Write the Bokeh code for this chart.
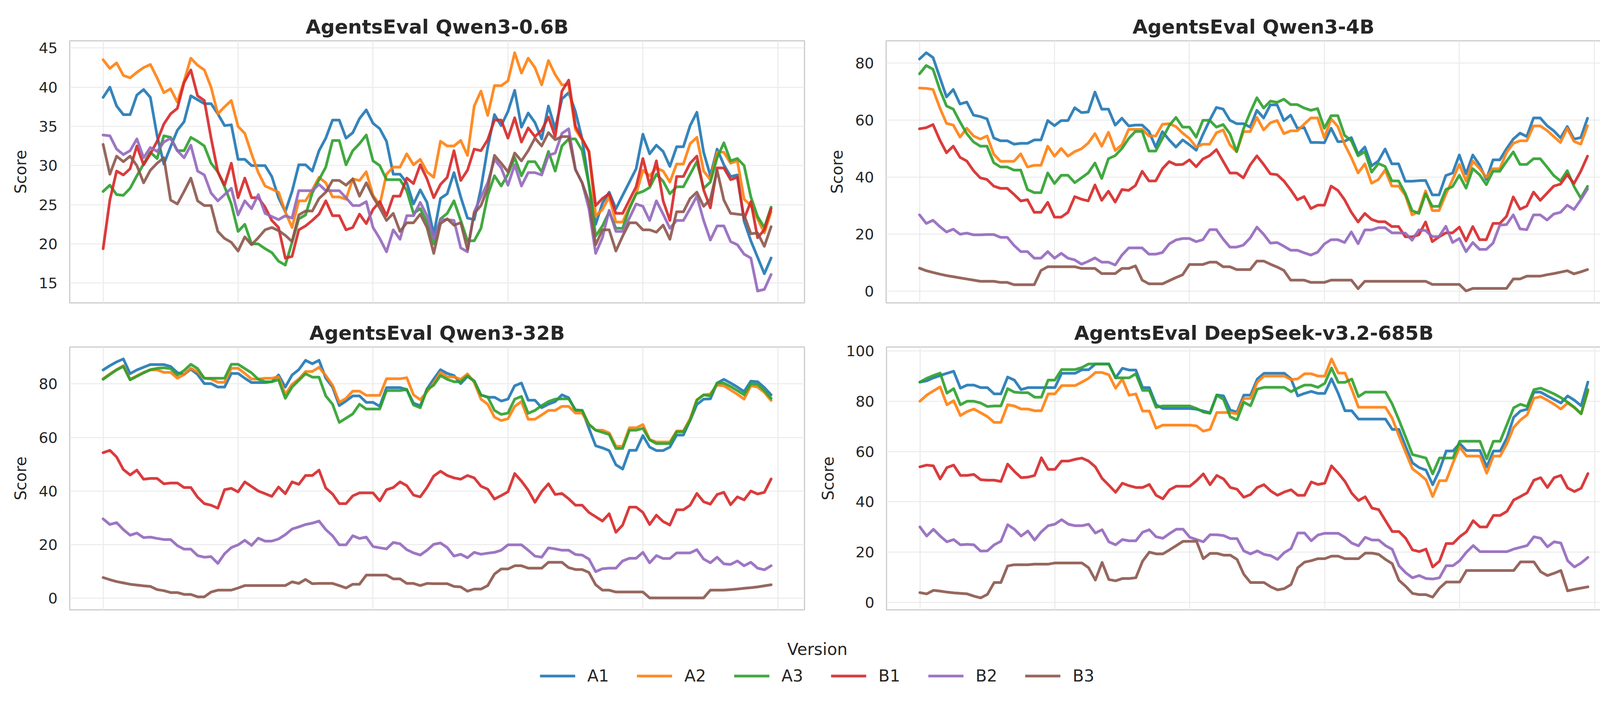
from bokeh.plotting import figure
from bokeh.models import FixedTicker, Range1d, Legend, LegendItem
from bokeh.layouts import column, row
from bokeh.embed import file_html
from bokeh.resources import INLINE

# ---------------- data ----------------
versions = ["A1", "A2", "A3", "B1", "B2", "B3"]
colors = ["#1f77b4", "#ff7f0e", "#2ca02c", "#d62728", "#9467bd", "#8c564b"]
steps = list(range(100))
x_grid_ticks = [0, 20, 40, 60, 80, 100]

titles = ["AgentsEval Qwen3-0.6B", "AgentsEval Qwen3-4B",
          "AgentsEval Qwen3-32B", "AgentsEval DeepSeek-v3.2-685B"]
yticks_q06 = [15, 20, 25, 30, 35, 40, 45]
yticks_q4 = [0, 20, 40, 60, 80]
yticks_q32 = [0, 20, 40, 60, 80]
yticks_ds = [0, 20, 40, 60, 80, 100]

q06_A1 = [38.7,40.0,37.6,36.5,36.5,39.0,39.7,38.7,33.8,30.2, 32.4,34.5,35.6,38.9,38.4,37.9,37.9,36.6,35.1,35.2,
          30.8,30.8,30.0,30.0,30.0,28.6,25.9,24.1,26.7,30.1, 30.1,29.3,31.9,33.5,35.8,35.8,33.5,34.2,36.0,37.1,
          35.4,34.7,33.1,28.9,28.9,27.8,25.1,26.9,25.3,21.2, 25.8,26.4,29.1,26.0,23.3,23.1,27.1,32.3,36.5,35.1,
          36.9,39.6,34.9,36.7,35.5,33.4,37.6,34.7,38.5,39.3, 36.9,33.4,27.6,22.5,25.2,26.6,24.5,26.2,27.9,29.6,
          34.0,31.5,32.6,31.8,29.9,32.4,32.4,35.1,36.8,31.7, 28.7,32.1,30.1,28.6,28.8,22.9,20.4,18.3,16.2,18.2]
q06_A2 = [43.5,42.4,43.1,41.5,41.2,41.9,42.5,42.9,41.2,39.3, 39.8,38.1,40.8,43.7,42.8,42.2,40.0,36.6,37.5,38.3,
          35.0,34.1,31.5,29.1,27.4,27.0,26.6,24.1,22.1,25.5, 25.5,26.9,28.5,27.8,26.0,26.0,25.7,28.3,28.1,29.2,
          26.2,25.0,28.9,29.8,29.8,31.5,30.1,30.8,29.2,28.5, 33.1,32.5,32.5,33.2,31.3,37.6,39.5,36.4,40.2,40.2,
          40.8,44.4,41.8,43.7,42.5,40.3,43.4,41.6,40.3,40.3, 34.6,33.3,31.8,23.6,24.4,26.0,22.8,22.8,24.7,26.4,
          29.4,28.7,29.7,29.3,27.9,30.2,30.2,32.8,33.6,29.3, 28.2,31.7,31.7,30.3,30.6,25.7,24.9,23.2,21.4,24.1]
q06_A3 = [26.7,27.5,26.3,26.2,27.1,28.7,30.2,31.7,30.9,33.8, 33.6,31.9,31.9,33.6,33.1,32.5,30.3,29.2,27.3,25.1,
          21.6,22.5,20.0,20.0,19.4,18.9,17.8,17.3,20.2,23.2, 23.7,26.5,28.2,29.8,33.2,33.2,30.1,31.9,32.8,33.9,
          30.6,30.0,28.2,28.2,28.2,26.8,23.9,24.5,22.8,20.0, 23.2,23.9,25.5,23.0,20.4,20.4,22.0,26.2,28.7,27.4,
          28.9,31.0,28.7,30.5,30.5,29.2,31.8,29.3,32.5,33.4, 33.4,31.9,27.6,21.0,22.3,24.1,22.0,22.0,24.5,26.4,
          26.7,27.2,28.9,28.0,26.4,27.3,27.3,28.9,30.5,27.1, 27.9,31.0,32.9,30.6,30.9,30.0,26.0,23.5,22.1,24.7]
q06_B1 = [19.4,25.6,29.3,28.8,29.6,32.5,30.1,31.5,33.1,35.3, 36.6,37.3,40.6,42.2,38.9,38.3,33.5,29.2,27.5,30.3,
          25.9,28.4,25.9,25.9,24.7,23.0,22.1,18.2,18.4,21.8, 22.3,23.0,23.8,25.5,23.6,23.6,21.8,22.1,23.8,22.6,
          24.4,25.4,23.6,26.1,26.1,28.4,27.7,30.1,28.3,25.9, 27.6,28.5,31.9,28.1,29.4,32.1,31.9,33.3,35.8,35.8,
          33.5,36.1,33.0,34.8,33.7,34.5,36.2,33.7,39.5,40.9, 35.0,33.4,31.8,24.9,25.8,26.4,23.9,23.9,25.6,27.3,
          30.9,27.5,30.6,25.5,23.0,28.6,28.6,30.3,31.2,26.9, 24.6,29.7,29.7,28.2,28.5,23.2,25.4,20.8,21.8,24.5]
q06_B2 = [33.9,33.8,32.1,31.4,31.9,33.4,31.0,32.3,31.8,33.0, 33.5,31.9,31.0,32.6,29.3,28.8,26.5,25.5,26.3,27.1,
          23.7,25.5,24.5,26.3,23.9,23.5,23.1,23.6,23.3,26.8, 26.8,26.8,27.6,26.8,26.8,26.8,25.9,24.9,24.9,25.4,
          22.1,20.7,19.0,21.8,20.6,23.6,23.6,25.3,23.6,20.7, 23.1,23.1,23.0,19.5,19.0,24.1,26.0,27.8,30.8,29.7,
          27.5,30.1,27.4,29.1,29.1,28.8,31.3,31.6,34.1,34.7, 29.5,27.8,24.5,18.8,20.8,24.3,21.6,21.6,23.3,25.1,
          24.8,23.0,25.5,23.8,22.0,23.0,23.0,24.5,26.1,23.0, 20.5,22.3,22.3,20.3,19.9,18.7,18.2,14.0,14.2,16.1]
q06_B3 = [32.7,28.9,31.2,30.5,31.2,30.0,27.8,29.4,30.3,31.0, 25.6,25.1,26.7,28.4,25.5,24.9,24.9,21.6,20.7,20.2,
          19.1,20.9,19.9,20.8,21.8,22.1,21.7,21.1,20.3,23.7, 24.2,24.2,25.8,26.6,28.1,28.1,27.5,28.3,26.1,27.8,
          26.0,24.6,23.0,23.9,21.6,22.7,22.7,23.8,22.1,18.8, 22.6,23.2,22.4,22.7,19.3,23.9,24.9,27.1,31.3,30.3,
          29.2,31.6,30.6,31.9,33.5,32.5,34.2,33.3,33.7,33.7, 29.5,27.8,25.4,19.9,21.8,21.8,19.1,21.0,22.7,22.7,
          21.8,21.8,21.5,22.4,20.6,24.1,24.1,25.8,26.6,24.8, 25.7,29.4,25.6,23.9,23.8,23.7,21.3,21.4,19.7,22.2]

q4_A1 = [81.4,83.6,81.9,75.0,68.1,70.7,65.6,66.3,61.7,61.2, 60.4,53.7,52.7,52.7,51.5,51.8,51.8,53.0,53.0,59.8,
         58.0,59.8,59.8,64.3,62.6,62.8,69.8,63.8,63.8,58.2, 60.6,57.9,58.2,58.2,56.0,50.5,55.9,53.0,50.5,53.0,
         51.3,49.4,54.9,59.9,64.4,63.8,59.9,58.7,58.7,57.5, 63.4,60.7,65.3,65.3,59.8,61.7,57.1,57.4,52.1,52.1,
         52.0,57.1,52.4,52.5,53.8,48.0,50.5,43.9,45.6,49.8, 44.6,44.6,38.5,38.5,38.7,38.8,33.7,33.7,40.5,41.4,
         47.7,41.1,47.7,44.2,39.1,46.0,46.0,49.9,53.3,55.4, 54.2,60.7,60.7,58.0,56.2,53.7,57.7,53.3,53.8,60.6]
q4_A2 = [71.2,71.1,70.7,64.3,58.8,58.2,54.0,57.1,54.4,53.3, 54.4,48.0,45.5,45.5,45.5,48.1,43.5,44.1,44.1,50.8,
         47.3,50.0,47.3,48.9,49.9,51.9,55.2,50.8,55.7,49.3, 51.3,56.7,56.7,56.7,54.4,54.4,58.5,58.7,57.7,55.4,
         53.5,50.5,51.5,51.5,55.5,56.5,51.3,48.9,55.9,55.9, 60.9,56.5,59.0,59.8,55.2,56.2,56.2,58.5,60.7,60.7,
         53.7,60.4,57.7,51.5,46.8,41.4,44.6,37.8,39.1,42.4, 36.8,36.8,33.6,26.7,27.9,35.1,28.2,28.2,33.9,39.1,
         44.4,38.6,45.6,43.0,39.9,42.9,42.9,48.6,51.8,52.7, 52.7,57.9,57.9,56.3,54.2,52.1,57.1,52.5,51.5,58.0]
q4_A3 = [76.2,79.1,77.8,70.7,64.9,63.8,59.3,55.2,52.3,50.8, 50.8,45.0,43.5,43.5,42.4,42.4,35.6,34.5,34.5,41.4,
         37.7,40.6,40.6,38.0,39.7,41.4,44.9,39.5,46.4,47.5, 50.0,53.5,56.0,56.0,49.1,49.1,53.5,58.0,60.9,57.5,
         57.5,54.0,59.9,59.9,57.5,58.4,55.2,48.9,56.8,62.6, 67.8,64.2,66.6,66.2,67.3,65.4,65.4,64.2,63.4,64.0,
         57.1,61.5,61.5,54.6,52.7,47.4,48.9,41.7,44.7,43.7, 38.6,38.6,34.2,28.2,27.2,34.1,29.7,29.7,35.6,36.6,
         40.6,36.1,42.9,40.8,37.3,42.0,42.0,45.5,48.8,44.4, 44.4,46.4,46.4,43.5,40.5,38.6,42.2,36.7,32.6,36.7]
q4_B1 = [56.9,57.3,58.4,53.0,48.5,50.8,46.9,45.6,42.2,39.7, 39.1,36.8,36.0,36.0,33.9,31.6,32.0,27.6,27.6,31.1,
         25.9,25.9,27.6,33.1,32.2,31.6,37.2,31.8,35.0,31.2, 35.6,35.3,37.0,42.0,38.6,38.6,42.9,45.4,44.3,44.4,
         46.0,43.6,46.3,47.5,49.6,45.5,41.4,41.4,39.7,44.2, 47.4,44.4,41.1,40.8,38.6,35.5,32.0,33.1,28.9,30.1,
         30.1,36.8,35.3,32.0,27.6,24.2,27.2,25.1,24.3,24.3, 22.6,22.6,19.0,19.0,19.7,24.2,17.3,19.0,20.4,20.4,
         22.4,17.6,22.6,18.0,18.0,23.7,23.7,26.2,33.0,28.7, 29.8,34.7,31.8,34.3,36.8,37.5,40.8,37.7,42.0,47.3]
q4_B2 = [26.7,23.7,24.8,22.6,20.7,21.7,19.9,20.3,19.7,19.7, 19.8,19.8,18.8,18.8,16.0,13.8,13.8,11.5,11.5,13.8,
         11.5,13.2,11.5,10.9,9.4,10.4,11.6,10.1,10.1,9.1, 12.6,15.1,15.1,15.1,12.9,12.9,13.5,16.5,17.9,18.4,
         18.4,17.3,18.0,21.5,21.5,18.2,15.4,15.4,16.1,18.6, 22.4,19.9,16.8,17.0,15.7,14.3,14.3,13.4,12.6,13.6,
         16.5,18.0,18.0,17.0,20.7,16.6,21.4,21.4,22.2,22.2, 20.4,20.4,20.3,17.8,21.4,21.2,19.1,19.1,22.7,17.0,
         18.4,13.8,17.0,14.6,14.6,16.8,23.1,23.3,26.7,21.8, 21.5,26.7,26.7,24.9,27.0,27.6,30.1,28.6,32.0,35.8]
q4_B3 = [8.0,7.1,6.5,5.9,5.4,5.0,4.6,4.2,3.8,3.4, 3.4,3.4,3.0,3.0,2.2,2.2,2.2,2.2,7.2,8.5,
         8.5,8.5,8.5,8.5,7.9,7.9,7.9,6.1,6.1,6.1, 7.9,7.9,8.8,3.8,2.5,2.5,2.5,3.6,4.7,5.7,
         9.3,9.3,9.3,10.1,10.1,8.5,8.5,7.5,7.5,7.5, 10.5,10.5,9.4,8.4,7.2,3.8,3.8,3.8,3.0,3.0,
         3.0,3.8,3.8,3.8,3.8,0.8,3.4,3.4,3.4,3.4, 3.4,3.4,3.4,3.4,3.4,3.4,2.3,2.3,2.3,2.3,
         2.3,0.0,0.9,0.9,0.9,0.9,0.9,0.9,4.2,4.2, 5.2,5.2,5.2,5.7,6.1,6.6,7.1,6.0,6.7,7.5]

q32_A1 = [85.2,86.8,88.2,89.3,83.8,85.2,86.2,87.2,87.2,87.2, 86.5,84.2,83.5,85.5,83.5,80.1,80.1,78.8,78.8,83.9,
          83.9,82.1,80.5,80.5,80.5,80.8,83.3,78.8,83.3,85.3, 88.8,87.5,88.8,82.1,78.8,71.9,73.6,75.5,75.5,73.1,
          73.1,71.6,78.6,78.6,78.6,77.9,72.8,71.8,78.1,81.8, 85.3,83.9,83.1,80.1,82.8,81.0,75.9,75.0,75.0,73.6,
          74.3,79.3,80.3,73.9,73.9,71.1,72.4,73.4,75.9,74.8, 70.1,70.1,63.4,56.9,56.1,55.1,49.8,48.2,55.2,55.2,
          60.7,56.4,55.1,55.1,56.4,60.9,60.9,66.4,72.3,74.3, 74.4,80.3,81.7,80.3,78.8,77.1,81.0,80.8,78.6,75.9]
q32_A2 = [81.9,83.7,85.3,86.8,81.7,83.0,84.3,85.2,85.2,84.3, 84.3,82.1,83.5,85.8,84.5,82.1,81.8,80.6,80.6,85.8,
          85.8,83.9,81.8,81.8,82.1,82.1,82.6,76.1,79.8,81.8, 84.6,84.6,86.2,83.1,79.5,73.1,74.6,77.3,77.3,75.7,
          75.7,75.7,81.9,81.9,81.9,82.3,75.9,74.1,77.0,80.3, 84.3,82.6,82.6,81.7,83.7,80.6,74.3,72.4,67.6,66.3,
          67.0,71.6,73.4,66.8,66.8,68.4,70.1,70.1,71.6,71.6, 69.1,69.1,64.8,62.7,62.7,61.7,56.7,56.7,63.6,63.6,
          64.8,59.2,58.3,58.3,58.3,62.4,62.4,67.0,74.1,75.8, 76.3,79.5,79.3,77.7,76.1,74.3,79.3,78.8,76.8,73.8]
q32_A3 = [81.7,83.5,85.2,86.5,81.5,82.8,84.1,85.3,85.8,86.0, 85.7,83.3,85.0,87.3,85.7,82.1,82.1,82.1,82.1,87.3,
          87.3,85.7,84.1,81.7,80.8,80.8,81.5,74.6,78.8,81.3, 83.8,82.5,82.5,75.5,72.4,65.6,67.2,68.8,72.4,70.6,
          70.6,70.6,77.5,77.5,77.5,77.9,72.1,71.1,77.9,79.5, 83.1,81.7,80.8,80.8,83.0,81.1,75.8,75.1,70.1,68.6,
          69.1,74.3,75.3,69.0,70.1,71.9,73.4,74.3,74.4,74.4, 70.3,70.1,64.9,62.7,61.9,61.1,55.9,55.9,62.7,62.7,
          63.4,59.1,57.7,57.7,57.7,62.1,62.1,66.4,73.9,75.9, 75.5,80.3,80.3,79.0,77.5,75.9,80.1,79.8,77.5,74.6]
q32_B1 = [54.3,55.2,52.7,48.0,46.0,47.8,44.4,44.7,44.7,42.7, 43.0,43.0,41.3,41.3,37.7,35.3,34.7,33.6,40.5,41.0,
          39.7,43.4,41.7,40.0,39.0,38.0,41.5,39.0,43.4,42.5, 45.8,45.8,47.8,41.1,38.9,35.3,35.3,38.2,39.3,39.3,
          39.3,36.3,40.5,41.3,43.4,42.0,38.5,37.8,41.3,45.6, 47.4,45.8,44.9,44.4,45.8,44.9,41.8,40.7,37.0,38.3,
          39.7,46.5,43.7,40.3,35.8,39.8,42.7,38.7,39.1,37.1, 34.7,34.7,32.0,30.4,28.8,31.5,24.6,27.3,34.0,34.0,
          32.0,27.5,31.0,28.6,27.3,33.0,33.0,34.7,39.1,36.0, 35.1,38.7,39.5,34.9,37.8,36.7,40.0,38.9,39.5,44.5]
q32_B2 = [29.6,27.5,28.2,25.6,23.5,24.3,22.6,22.8,22.3,21.9, 21.9,19.6,18.3,18.3,15.9,15.3,15.5,13.0,16.6,18.9,
          19.9,21.6,19.7,22.4,21.3,21.3,22.1,23.7,25.8,26.6, 27.5,28.0,28.8,25.6,23.3,19.9,19.9,23.3,22.3,22.8,
          19.3,18.8,18.4,20.8,20.3,18.1,16.9,16.1,17.9,20.1, 20.6,18.9,15.7,16.4,15.1,17.1,16.4,16.8,17.1,17.9,
          19.9,19.9,19.9,17.9,15.7,15.3,18.8,18.4,17.9,17.9, 16.3,16.1,14.6,9.9,11.0,11.2,11.2,13.9,14.9,14.9,
          17.1,13.2,15.9,14.8,14.8,16.9,16.9,16.9,18.1,14.6, 13.2,15.3,12.8,12.6,13.9,12.1,13.4,11.2,10.6,12.1]
q32_B3 = [7.7,6.9,6.2,5.7,5.2,4.9,4.6,4.4,3.2,2.8, 2.1,2.1,1.4,1.4,0.5,0.5,2.3,3.0,3.0,3.0,
          3.8,4.7,4.7,4.7,4.7,4.7,4.7,4.7,6.1,5.5, 7.0,5.4,5.5,5.5,5.5,4.7,3.8,5.2,5.2,8.6,
          8.6,8.6,8.6,7.2,7.2,5.5,5.5,4.7,5.5,5.4, 5.4,5.4,4.4,4.2,2.6,3.4,3.4,4.7,9.0,10.9,
          10.9,12.1,12.1,11.2,11.2,11.2,13.4,13.4,13.4,11.4, 10.7,10.7,9.6,5.0,3.0,3.0,2.3,2.3,2.3,2.3,
          2.3,0.1,0.1,0.1,0.1,0.1,0.1,0.1,0.1,0.1, 3.0,3.0,3.0,3.2,3.4,3.7,3.9,4.2,4.6,5.0]

ds_A1 = [87.6,88.1,89.3,90.2,91.1,91.9,85.2,86.4,86.4,85.4, 85.4,82.9,82.9,89.6,88.4,84.6,85.4,85.4,85.4,85.4,
         85.4,91.1,91.1,91.1,92.5,92.5,94.8,94.8,94.8,89.3, 93.1,92.4,92.4,85.4,85.4,78.6,77.1,77.1,77.1,77.1,
         77.1,76.8,76.1,75.4,82.5,82.1,76.4,75.7,82.4,82.4, 88.8,91.1,91.1,91.1,91.1,88.9,82.1,83.1,83.9,83.1,
         83.1,88.9,83.1,76.2,76.2,72.9,72.9,72.9,72.9,72.9, 68.8,68.8,61.9,55.5,53.6,52.6,46.8,52.5,60.2,60.2,
         63.2,60.4,60.4,60.4,53.9,60.2,60.2,65.4,73.6,76.1, 76.8,83.6,83.6,82.1,80.7,79.3,82.1,80.4,78.2,87.6]
ds_A2 = [80.0,82.4,84.1,85.7,78.6,80.2,74.3,75.9,76.9,75.4, 73.9,71.6,71.6,78.6,78.1,76.9,76.9,76.2,76.2,82.9,
         82.9,86.2,86.2,86.2,87.6,89.1,91.4,91.4,90.5,85.2, 88.8,82.4,82.9,76.1,76.1,69.3,70.5,70.5,70.5,70.5,
         70.5,70.2,68.1,68.8,75.5,75.5,75.5,75.0,81.1,81.1, 87.6,90.0,90.0,90.0,90.0,88.6,88.9,90.9,90.9,90.0,
         90.0,96.8,91.2,91.2,84.8,77.6,77.6,77.6,77.6,77.6, 73.2,66.2,59.6,53.1,51.1,48.8,42.1,48.4,48.4,55.4,
         61.8,58.2,58.2,58.2,51.4,58.2,58.2,63.1,69.6,72.5, 74.6,81.2,81.8,80.4,78.8,76.9,79.3,77.4,75.0,84.0]
ds_A3 = [87.6,89.1,90.2,91.2,83.2,85.0,78.6,80.0,80.0,79.3, 77.9,78.1,78.1,85.0,83.6,83.4,83.4,81.6,81.6,88.4,
         88.4,92.6,92.6,92.6,93.4,94.8,94.8,94.8,94.8,89.3, 89.3,89.3,90.9,84.3,84.3,77.6,78.1,78.1,78.1,78.1,
         78.1,77.1,75.7,75.2,82.4,80.7,73.8,72.6,79.6,78.2, 84.8,85.5,85.5,85.5,85.5,83.8,85.2,86.4,86.4,85.5,
         87.1,93.2,87.5,87.5,88.8,81.8,83.6,83.6,83.6,83.6, 78.9,72.5,65.7,58.8,58.1,57.4,51.1,57.4,57.4,57.4,
         64.1,64.1,64.1,64.1,57.1,64.1,64.1,70.7,77.4,78.8, 77.9,84.6,85.2,84.1,82.9,81.4,79.6,77.6,75.0,84.6]
ds_B1 = [53.9,54.6,54.3,49.1,53.6,54.6,50.5,50.5,50.9,48.8, 48.6,48.6,48.1,55.0,52.1,49.6,49.8,50.5,57.5,52.9,
         52.9,56.2,56.2,56.9,57.4,56.2,53.9,49.3,46.6,43.8, 47.4,46.4,45.7,45.7,46.9,42.6,41.2,44.8,46.2,46.2,
         46.2,48.4,51.1,46.8,50.5,49.1,45.7,45.0,41.8,42.9, 45.7,46.8,44.3,42.6,43.9,44.8,42.6,42.6,47.9,46.9,
         47.4,54.3,51.4,48.1,43.4,40.5,42.0,37.5,36.9,32.5, 28.2,28.2,25.5,20.9,20.2,21.2,14.1,16.4,23.4,23.4,
         26.1,28.1,32.5,30.0,30.0,34.6,34.6,36.2,40.7,42.1, 43.6,48.6,49.6,45.7,49.6,50.5,45.5,44.1,45.4,51.2]
ds_B2 = [30.0,26.4,29.1,26.4,24.1,25.0,22.9,23.1,22.9,20.4, 20.5,22.9,24.3,30.9,29.1,26.4,28.4,24.8,28.1,30.5,
         31.1,32.9,31.1,30.5,30.5,31.1,27.6,28.9,24.1,22.9, 25.0,24.5,24.5,27.9,28.9,26.1,25.5,27.4,29.1,29.1,
         25.9,25.0,24.1,26.9,26.9,26.6,25.4,25.4,20.5,19.3, 20.5,19.1,18.6,17.1,19.8,21.4,27.6,27.6,24.5,26.8,
         27.5,27.5,27.5,25.9,23.6,22.5,25.9,24.8,24.8,22.6, 21.1,14.6,11.8,9.8,10.7,9.5,9.3,9.8,14.6,14.6,
         16.6,20.0,22.6,20.2,20.2,20.2,20.2,20.2,21.2,21.9, 22.6,26.1,25.5,22.1,24.1,23.6,16.6,14.1,15.7,17.9]
ds_B3 = [3.9,3.4,4.8,4.5,4.1,3.8,3.6,3.4,2.5,1.8, 3.2,7.9,7.9,14.5,15.0,15.0,15.0,15.2,15.2,15.2,
         15.7,15.7,15.7,15.7,15.7,13.8,8.9,15.9,9.1,8.6, 9.5,9.5,9.8,16.4,20.0,19.3,19.3,20.9,22.6,24.3,
         24.3,24.3,17.4,19.5,19.5,18.8,18.8,17.1,11.2,7.9, 7.9,7.9,6.2,5.0,5.5,7.1,13.8,16.0,16.6,17.4,
         17.4,18.4,18.4,17.4,17.4,17.4,19.6,19.6,19.1,17.1, 15.4,8.8,6.4,3.6,3.1,3.1,2.1,5.7,8.1,8.1,
         8.1,12.7,12.7,12.7,12.7,12.7,12.7,12.7,12.7,16.1, 16.1,16.1,12.2,10.7,11.6,12.7,4.6,5.2,5.7,6.2]

panels = [
    (titles[0], [q06_A1, q06_A2, q06_A3, q06_B1, q06_B2, q06_B3], yticks_q06),
    (titles[1], [q4_A1, q4_A2, q4_A3, q4_B1, q4_B2, q4_B3], yticks_q4),
    (titles[2], [q32_A1, q32_A2, q32_A3, q32_B1, q32_B2, q32_B3], yticks_q32),
    (titles[3], [ds_A1, ds_A2, ds_A3, ds_B1, ds_B2, ds_B3], yticks_ds),
]

# ---------------- style ----------------
FONT = "DejaVu Sans"
TXT = "#262626"
LW = 7


def make_panel(title, series, yticks, fw, fh, bl, br, bt, bb):
    allv = [v for s in series for v in s]
    lo, hi = min(allv), max(allv)
    pad = 0.05 * (hi - lo)
    xpad = 0.05 * (steps[-1] - steps[0])
    p = figure(frame_width=fw, frame_height=fh, output_backend="svg", toolbar_location=None,
               x_range=Range1d(steps[0] - xpad, steps[-1] + xpad),
               y_range=Range1d(lo - pad, hi + pad),
               min_border_left=bl, min_border_right=br,
               min_border_top=bt, min_border_bottom=bb)
    p.background_fill_color = "white"
    p.border_fill_color = "white"
    p.outline_line_color = "#cccccc"
    p.outline_line_width = 3

    p.title.text = title
    p.title.align = "center"
    p.title.text_font = FONT
    p.title.text_font_size = "50px"
    p.title.text_font_style = "bold"
    p.title.text_color = TXT
    p.title.standoff = 14

    p.xaxis.visible = False
    p.xgrid.ticker = FixedTicker(ticks=x_grid_ticks)
    p.yaxis.ticker = FixedTicker(ticks=yticks)
    for g in (p.xgrid, p.ygrid):
        g.grid_line_color = "#ebebeb"
        g.grid_line_width = 2.7

    ax = p.yaxis
    ax.axis_line_color = None
    ax.major_tick_line_color = None
    ax.minor_tick_line_color = None
    ax.major_tick_out = 0
    ax.major_tick_in = 0
    ax.major_label_standoff = 31
    ax.major_label_text_font = FONT
    ax.major_label_text_font_size = "38px"
    ax.major_label_text_color = TXT
    ax.axis_label = "Score"
    ax.axis_label_text_font = FONT
    ax.axis_label_text_font_size = "40px"
    ax.axis_label_text_font_style = "normal"
    ax.axis_label_text_color = TXT
    ax.axis_label_standoff = 20

    for vals, c in zip(series, colors):
        p.line(steps, vals, line_color=c, line_width=LW, line_alpha=0.9,
               line_join="round", line_cap="round")
    return p


FW = 1881
p1 = make_panel(*panels[0], fw=FW, fh=671, bl=178, br=34, bt=104, bb=32)
p2 = make_panel(*panels[1], fw=FW, fh=671, bl=175, br=35, bt=104, bb=32)
p3 = make_panel(*panels[2], fw=FW, fh=673, bl=178, br=34, bt=81, bb=31)
p4 = make_panel(*panels[3], fw=FW, fh=673, bl=175, br=35, bt=81, bb=31)

# legend strip
lp = figure(frame_width=4184, frame_height=84, output_backend="svg", toolbar_location=None,
            x_range=Range1d(-30, -20), y_range=Range1d(0, 1),
            min_border_left=0, min_border_right=0, min_border_top=96, min_border_bottom=4)
lp.xaxis.visible = False
lp.yaxis.visible = False
lp.xgrid.visible = False
lp.ygrid.visible = False
lp.outline_line_color = None
lp.background_fill_color = "white"
lp.border_fill_color = "white"
lp.title.text = "Version"
lp.title.align = "center"
lp.title.text_font = FONT
lp.title.text_font_size = "42px"
lp.title.text_font_style = "normal"
lp.title.text_color = TXT
lp.title.standoff = 4

items = []
for name, c, vals in zip(versions, colors, panels[0][1]):
    # same series as the first panel, but outside this strip's visible x range
    r = lp.line(steps, vals, line_color=c, line_width=LW, line_alpha=0.9, line_cap="round")
    items.append(LegendItem(label=name, renderers=[r]))
leg = Legend(items=items, orientation="horizontal", location="center",
             glyph_width=90, glyph_height=40, label_standoff=31, spacing=72,
             label_width=52, label_text_font=FONT, label_text_font_size="42px",
             label_text_color=TXT, border_line_color=None, background_fill_alpha=0,
             padding=0, margin=0)
lp.add_layout(leg, "center")

layout = column(row(p1, p2), row(p3, p4), lp)
open("out.html", "w").write(file_html(layout, INLINE))
